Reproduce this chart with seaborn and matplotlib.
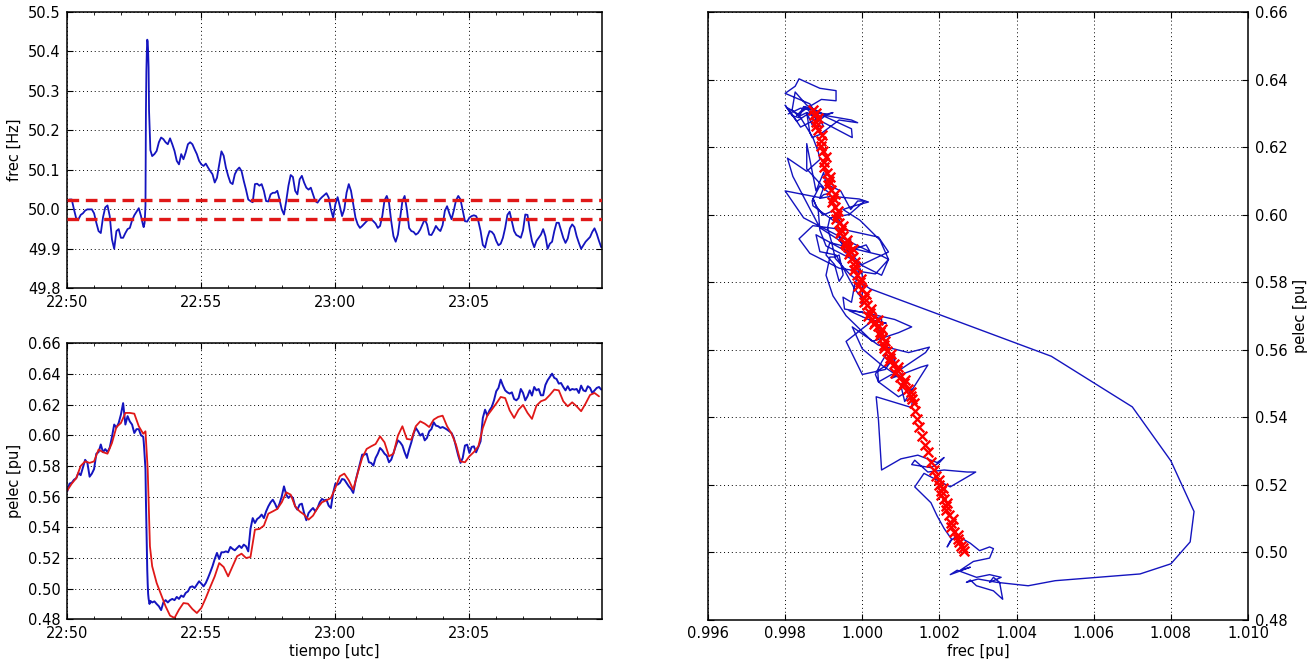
"""
plot.py — frecuencia / potencia eléctrica (serie temporal + diagrama frec-pelec)
"""
import numpy as np
import pandas as pd
import matplotlib
matplotlib.use("Agg")
import matplotlib.pyplot as plt
import matplotlib.dates as mdates
from matplotlib.ticker import FormatStrFormatter, MultipleLocator
import seaborn as sns

# ── datos ────────────────────────────────────────────────────────────
# muestreo común para frec y pelec medida (segundos desde 22:50:00)
t_sec = list(range(0, 171, 5)) + list(range(171, 187)) + list(range(190, 1196, 5))

frec_hz = [
    50.021, 50.025, 50.025, 50.000, 49.977, 49.975, 49.986, 49.990, 49.997, 50.000,
    50.000, 50.000, 49.990, 49.966, 49.945, 49.940, 49.980, 50.005, 50.010, 49.983,
    49.924, 49.900, 49.945, 49.950, 49.928, 49.928, 49.940, 49.950, 49.953, 49.972,
    49.985, 49.994, 50.003, 49.983, 49.958,
    # salto 171..186 s
    49.955, 49.960, 49.965, 49.985, 50.010, 50.245, 50.350, 50.400, 50.430, 50.425,
    50.400, 50.360, 50.250, 50.215, 50.175, 50.150,
    # 190..1195 s
    50.135, 50.140, 50.148, 50.170, 50.182, 50.178, 50.170, 50.165, 50.180, 50.165,
    50.148, 50.123, 50.114, 50.140, 50.127, 50.144, 50.165, 50.170, 50.165, 50.152,
    50.140, 50.123, 50.114, 50.110, 50.116, 50.106, 50.097, 50.089, 50.068, 50.080,
    50.114, 50.147, 50.136, 50.106, 50.085, 50.068, 50.064, 50.089, 50.100, 50.106,
    50.097, 50.072, 50.050, 50.025, 50.021, 50.018, 50.064, 50.065, 50.060, 50.064,
    50.047, 50.021, 50.020, 50.038, 50.042, 50.042, 50.047, 50.025, 50.000, 49.987,
    50.021, 50.060, 50.087, 50.082, 50.047, 50.038, 50.076, 50.085, 50.068, 50.055,
    50.050, 50.055, 50.038, 50.021, 50.017, 50.025, 50.031, 50.036, 50.041, 50.030,
    50.000, 49.979, 50.013, 50.031, 50.008, 49.983, 50.000, 50.042, 50.064, 50.047,
    50.013, 49.979, 49.962, 49.953, 49.958, 49.964, 49.970, 49.975, 49.975, 49.970,
    49.964, 49.953, 49.958, 49.983, 50.023, 50.034, 50.017, 49.970, 49.932, 49.918,
    49.936, 49.979, 50.021, 50.034, 50.000, 49.953, 49.945, 49.943, 49.936, 49.940,
    49.949, 49.962, 49.975, 49.962, 49.936, 49.935, 49.945, 49.958, 49.950, 49.945,
    49.960, 49.996, 50.008, 49.990, 49.975, 49.997, 50.023, 50.034, 50.025, 49.997,
    49.970, 49.969, 49.979, 49.983, 49.985, 49.983, 49.970, 49.945, 49.910, 49.903,
    49.928, 49.945, 49.943, 49.936, 49.920, 49.909, 49.913, 49.928, 49.953, 49.986,
    49.994, 49.970, 49.945, 49.935, 49.932, 49.928, 49.947, 49.987, 49.986, 49.949,
    49.920, 49.904, 49.920, 49.928, 49.936, 49.950, 49.932, 49.900, 49.913, 49.918,
    49.945, 49.966, 49.966, 49.947, 49.928, 49.915, 49.926, 49.952, 49.962, 49.955,
    49.932, 49.915, 49.900, 49.909, 49.918, 49.924, 49.930, 49.943, 49.952, 49.938,
    49.920, 49.904,
]

pelec_med = [
    0.5635, 0.5685, 0.569, 0.571, 0.572, 0.5755, 0.574, 0.579, 0.584, 0.582,
    0.573, 0.575, 0.578, 0.588, 0.589, 0.594, 0.589, 0.591, 0.589, 0.592,
    0.599, 0.607, 0.605, 0.608, 0.6135, 0.621, 0.607, 0.6125, 0.609, 0.607,
    0.6015, 0.604, 0.604, 0.600, 0.599,
    # salto 171..186 s
    0.596, 0.592, 0.587, 0.582, 0.578, 0.558, 0.543, 0.527, 0.512, 0.503,
    0.4965, 0.4935, 0.4915, 0.490, 0.491, 0.492,
    # 190..1195 s
    0.491, 0.4917, 0.490, 0.4885, 0.486, 0.491, 0.4925, 0.491, 0.4925, 0.4933,
    0.4925, 0.4946, 0.4933, 0.4955, 0.4946, 0.4972, 0.4982, 0.501, 0.5015, 0.5004,
    0.5026, 0.5048, 0.5033, 0.5015, 0.5037, 0.507, 0.5107, 0.5146, 0.5193, 0.5233,
    0.5193, 0.5237, 0.5237, 0.5243, 0.5237, 0.5272, 0.5259, 0.525, 0.5265, 0.528,
    0.5265, 0.5287, 0.5276, 0.5243, 0.5390, 0.546, 0.5428, 0.5454, 0.5465, 0.5483,
    0.546, 0.5504, 0.5537, 0.5563, 0.558, 0.5554, 0.552, 0.5554, 0.5602, 0.5667,
    0.5613, 0.5591, 0.5607, 0.5591, 0.5537, 0.5515, 0.5548, 0.5554, 0.5493, 0.5446,
    0.5493, 0.5511, 0.5526, 0.5504, 0.5526, 0.5563, 0.5585, 0.5576, 0.558, 0.5541,
    0.5526, 0.5624, 0.5685, 0.5678, 0.5689, 0.5715, 0.5711, 0.5689, 0.5667, 0.565,
    0.5624, 0.570, 0.5759, 0.582, 0.5874, 0.5874, 0.588, 0.5824, 0.582, 0.5802,
    0.5852, 0.588, 0.5917, 0.5902, 0.588, 0.5867, 0.5824, 0.5841, 0.5885, 0.5928,
    0.5967, 0.5954, 0.5933, 0.5889, 0.5852, 0.5907, 0.5954, 0.6011, 0.6048, 0.6026,
    0.5998, 0.6011, 0.5967, 0.5983, 0.6026, 0.6041, 0.6085, 0.6063, 0.6059, 0.6048,
    0.6054, 0.6046, 0.6037, 0.6026, 0.6015, 0.5983, 0.5924, 0.5867, 0.582, 0.5852,
    0.5933, 0.5939, 0.5885, 0.5924, 0.5928, 0.5889, 0.5924, 0.5961, 0.6113, 0.6167,
    0.6128, 0.6163, 0.6185, 0.6228, 0.6287, 0.6309, 0.6363, 0.6324, 0.6293, 0.628,
    0.6272, 0.628, 0.6237, 0.6228, 0.6243, 0.6302, 0.6276, 0.6228, 0.6254, 0.6293,
    0.6259, 0.6315, 0.6293, 0.6302, 0.6261, 0.6261, 0.6328, 0.6359, 0.638, 0.6402,
    0.6374, 0.6367, 0.6337, 0.6341, 0.6315, 0.6293, 0.632, 0.6293, 0.6302, 0.6298,
    0.6302, 0.6276, 0.6324, 0.6293, 0.6287, 0.632, 0.6309, 0.6276, 0.6293, 0.6309,
    0.6315, 0.6298,
]

# pelec del modelo (rojo)
t_mod = list(range(0, 171, 10)) + [175, 180, 185] + list(range(190, 1191, 10))
pelec_mod = [
    0.564, 0.5685, 0.572, 0.580, 0.583, 0.582, 0.583, 0.5907, 0.589, 0.588,
    0.595, 0.6054, 0.608, 0.6146, 0.6146, 0.6141, 0.6059, 0.601,
    0.6026, 0.5776, 0.5276,
    0.5146, 0.5037, 0.4961, 0.4885, 0.4824, 0.4809, 0.4863, 0.4906, 0.4902, 0.4867,
    0.4841, 0.4874, 0.4939, 0.5011, 0.508, 0.5167, 0.5141, 0.508, 0.5146, 0.5211,
    0.5228, 0.520, 0.5206,
    0.5385, 0.5389, 0.5411, 0.5489, 0.5504, 0.552, 0.5563, 0.5628, 0.5613, 0.5537,
    0.5504, 0.5483, 0.545, 0.5476, 0.5526, 0.5563, 0.5576, 0.5591, 0.5657, 0.5733,
    0.575, 0.5707, 0.5646, 0.5754, 0.5852, 0.5911, 0.5928, 0.5943, 0.5993, 0.5954,
    0.5863, 0.588, 0.5998, 0.6059, 0.5976, 0.5972, 0.6059, 0.6091, 0.6076, 0.6054,
    0.6102, 0.612, 0.6128, 0.6059, 0.6011, 0.5939, 0.583, 0.5824, 0.5863, 0.5891,
    0.5928, 0.6048, 0.6128, 0.6167, 0.6207, 0.625, 0.6243, 0.6163, 0.6113, 0.6167,
    0.6198, 0.6146, 0.6107, 0.6193, 0.6222, 0.6233, 0.6263, 0.6298, 0.6293, 0.6222,
    0.6189, 0.6215, 0.6189, 0.6157, 0.6207, 0.6263, 0.6276, 0.6254,
]

# banda muerta de frecuencia [Hz]
frec_band = [49.975, 50.025]

# característica (cruces rojas) en el plano frec [pu] - pelec [pu]
cruz_f = [
    0.99871, 0.99876, 0.99881, 0.99886, 0.99892, 0.99897, 0.99902, 0.99908, 0.99913, 0.99918,
    0.99924, 0.99929, 0.99934, 0.99940, 0.99945, 0.99950, 0.99955, 0.99963, 0.99969, 0.99973,
    0.99980, 0.99987, 0.99993, 0.99998, 1.00005, 1.00012, 1.00019, 1.00024, 1.00033, 1.00040,
    1.00046, 1.00051, 1.00056, 1.00064, 1.00072, 1.00081, 1.00090, 1.00099, 1.00109, 1.00118,
    1.00125, 1.00133, 1.00137, 1.00141, 1.00146, 1.00154, 1.00162, 1.00170, 1.00178, 1.00186,
    1.00192, 1.00199, 1.00205, 1.00211, 1.00218, 1.00224, 1.00231, 1.00239, 1.00247, 1.00256,
    1.00263,
    # tramo denso superior
    0.99880, 0.99885, 0.99880, 0.99895, 0.99892, 0.99906, 0.99900, 0.99917, 0.99912, 0.99928,
    0.99922, 0.99938, 0.99932, 0.99949, 0.99942, 0.99960, 0.99958, 0.99975, 0.99965, 0.99982,
    0.99978, 0.99996, 0.99990, 1.00010, 1.00004, 1.00022, 1.00016, 1.00040, 1.00030, 1.00050,
    1.00045, 1.00060, 1.00055, 1.00075, 1.00070, 1.00092, 1.00085, 1.00110, 1.00104, 1.00127,
    1.00128,
    # tramo denso inferior
    1.00198, 1.00208, 1.00204, 1.00220, 1.00216, 1.00234, 1.00230, 1.00248, 1.00250, 1.00262,
]
cruz_p = [
    0.6310, 0.6294, 0.6275, 0.6250, 0.6219, 0.6187, 0.6155, 0.6124, 0.6099, 0.6073,
    0.6049, 0.6023, 0.5998, 0.5976, 0.5954, 0.5935, 0.5916, 0.5904, 0.5891, 0.5872,
    0.5847, 0.5822, 0.5799, 0.5778, 0.5753, 0.5731, 0.5709, 0.5690, 0.5681, 0.5671,
    0.5652, 0.5633, 0.5614, 0.5595, 0.5576, 0.5558, 0.5539, 0.5520, 0.5501, 0.5482,
    0.5463, 0.5442, 0.5419, 0.5394, 0.5369, 0.5344, 0.5318, 0.5296, 0.5268, 0.5243,
    0.5224, 0.5199, 0.5180, 0.5157, 0.5136, 0.5111, 0.5085, 0.5060, 0.5039, 0.5019,
    0.5004,
    # tramo denso superior
    0.6302, 0.6285, 0.6262, 0.6235, 0.6203, 0.6171, 0.6140, 0.6112, 0.6086, 0.6061,
    0.6036, 0.6010, 0.5987, 0.5965, 0.5944, 0.5925, 0.5910, 0.5897, 0.5882, 0.5860,
    0.5835, 0.5810, 0.5788, 0.5765, 0.5742, 0.5720, 0.5700, 0.5686, 0.5676, 0.5662,
    0.5643, 0.5624, 0.5605, 0.5586, 0.5567, 0.5548, 0.5530, 0.5511, 0.5492, 0.5473,
    0.5452,
    # tramo denso inferior
    0.5212, 0.5190, 0.5168, 0.5146, 0.5124, 0.5098, 0.5073, 0.5050, 0.5030, 0.5012,
]

F_NOM = 50.0
BLUE = "#1414bf"
RED = "#e01818"

# ── estilo ───────────────────────────────────────────────────────────
sns.set_theme(style="white", rc={
    "axes.edgecolor": "black", "axes.linewidth": 1.1,
    "text.color": "black", "axes.labelcolor": "black",
    "xtick.color": "black", "ytick.color": "black",
    "xtick.direction": "in", "ytick.direction": "in",
    "font.size": 10, "axes.labelsize": 10.5,
    "xtick.labelsize": 10.5, "ytick.labelsize": 10.5,
})
plt.rcParams["font.family"] = ["DejaVu Sans"]

base = pd.Timestamp("2012-01-01 22:50:00")
tt = base + pd.to_timedelta(t_sec, unit="s")
tm = base + pd.to_timedelta(t_mod, unit="s")
t_end = base + pd.Timedelta(seconds=1196)

fig = plt.figure(figsize=(13.14, 6.64), dpi=100)
ax_f = fig.add_axes([0.0512, 0.5658, 0.4067, 0.4161])
ax_p = fig.add_axes([0.0512, 0.0673, 0.4067, 0.4157])
ax_r = fig.add_axes([0.5388, 0.0670, 0.4110, 0.9149])

grid_kw = dict(color="black", lw=0.7, ls=(0, (1, 3)))

# ── (1) frecuencia ──────────────────────────────────────────────────
sns.lineplot(x=tt, y=frec_hz, ax=ax_f, color=BLUE, lw=1.3, estimator=None)
for b in frec_band:
    ax_f.axhline(b, color=RED, lw=2.4, ls=(0, (3.5, 2.0)), zorder=3)
ax_f.set_ylim(49.8, 50.5)
ax_f.yaxis.set_major_locator(MultipleLocator(0.1))
ax_f.yaxis.set_major_formatter(FormatStrFormatter("%.1f"))
ax_f.set_ylabel("frec [Hz]")

# ── (2) potencia eléctrica ──────────────────────────────────────────
sns.lineplot(x=tt, y=pelec_med, ax=ax_p, color=BLUE, lw=1.4, estimator=None)
sns.lineplot(x=tm, y=pelec_mod, ax=ax_p, color=RED, lw=1.3, estimator=None)
ax_p.set_ylim(0.48, 0.66)
ax_p.yaxis.set_major_locator(MultipleLocator(0.02))
ax_p.yaxis.set_major_formatter(FormatStrFormatter("%.2f"))
ax_p.set_ylabel("pelec [pu]")
ax_p.set_xlabel("tiempo [utc]", labelpad=2)

for ax in (ax_f, ax_p):
    ax.set_xlim(base, t_end)
    ax.xaxis.set_major_locator(mdates.MinuteLocator(byminute=range(0, 60, 5)))
    ax.xaxis.set_minor_locator(mdates.MinuteLocator())
    ax.xaxis.set_major_formatter(mdates.DateFormatter("%H:%M"))
    ax.tick_params(which="both", top=True, bottom=True, left=True, right=True)
    ax.tick_params(which="major", length=4, width=0.8, pad=5)
    ax.tick_params(which="minor", length=2.5, width=0.6)
    ax.grid(True, which="major", **grid_kw)
    if ax is ax_f:
        ax.set_xlabel("")

# ── (3) plano frec-pelec ────────────────────────────────────────────
frec_pu = np.array(frec_hz) / F_NOM
sns.lineplot(x=frec_pu, y=pelec_med, ax=ax_r, color=BLUE, lw=1.0,
             sort=False, estimator=None)
sns.scatterplot(x=cruz_f, y=cruz_p, ax=ax_r, marker="x", color="red",
                s=48, linewidth=1.7, zorder=4)
ax_r.set_xlim(0.996, 1.010)
ax_r.set_ylim(0.48, 0.66)
ax_r.xaxis.set_major_locator(MultipleLocator(0.002))
ax_r.xaxis.set_major_formatter(FormatStrFormatter("%.3f"))
ax_r.yaxis.set_major_locator(MultipleLocator(0.02))
ax_r.yaxis.set_major_formatter(FormatStrFormatter("%.2f"))
ax_r.yaxis.tick_right()
ax_r.yaxis.set_label_position("right")
ax_r.tick_params(which="both", top=True, bottom=True, left=True, right=True)
ax_r.tick_params(which="major", length=4, width=0.8, pad=5)
ax_r.grid(True, which="major", **grid_kw)
ax_r.set_xlabel("frec [pu]", labelpad=2)
ax_r.set_ylabel("pelec [pu]")

fig.savefig("out.png", dpi=100)
